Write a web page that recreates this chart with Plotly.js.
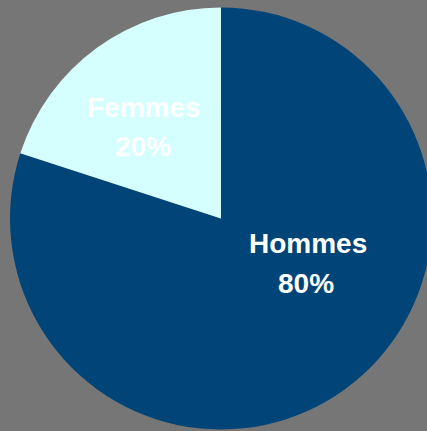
<!DOCTYPE html>
<html>
<head>
<meta charset="utf-8">
<script src="https://cdn.plot.ly/plotly-3.0.1.min.js"></script>
<style>
  html, body { margin: 0; padding: 0; overflow: hidden; background: #767676; }
</style>
</head>
<body>
<div id="chart"></div>
<script>
// Slice data
const labels = ['Hommes', 'Femmes'];
const values = [80, 20];
const sliceColors = ['#004478', '#D5FFFF'];

// Where each label sits (paper coords), tuned against the reference
const labelPos = [
    { x: 0.697, y: 0.436, px: 0.692, py: 0.342 },
    { x: 0.326, y: 0.751, px: 0.324, py: 0.660 }
];

const total = values.reduce((a, b) => a + b, 0);

const trace = {
    type: 'pie',
    labels: labels,
    values: values,
    sort: false,
    direction: 'clockwise',
    rotation: 0,
    marker: { colors: sliceColors, line: { width: 0 } },
    textinfo: 'none',
    hoverinfo: 'none',
    showlegend: false,
    domain: { x: [0, 1], y: [0.0035, 0.9826] }
};

// Labels as two lines each (name + percent)
const font = { family: 'Liberation Sans, Arial, sans-serif', size: 28, color: '#FFFFFF', weight: 'bold' };
const annotations = [];
labels.forEach((name, i) => {
    const pct = Math.round(values[i] / total * 100) + '%';
    annotations.push({
        text: '<b>' + name + '</b>', x: labelPos[i].x, y: labelPos[i].y,
        xref: 'paper', yref: 'paper', showarrow: false,
        xanchor: 'center', yanchor: 'middle', font: font
    });
    annotations.push({
        text: '<b>' + pct + '</b>', x: labelPos[i].px, y: labelPos[i].py,
        xref: 'paper', yref: 'paper', showarrow: false,
        xanchor: 'center', yanchor: 'middle', font: font
    });
});

const layout = {
    width: 442,
    height: 431,
    margin: { t: 0, b: 0, l: 0, r: 0 },
    paper_bgcolor: '#767676',
    plot_bgcolor: '#767676',
    annotations: annotations
};

Plotly.newPlot('chart', [trace], layout, { staticPlot: true });
</script>
</body>
</html>
